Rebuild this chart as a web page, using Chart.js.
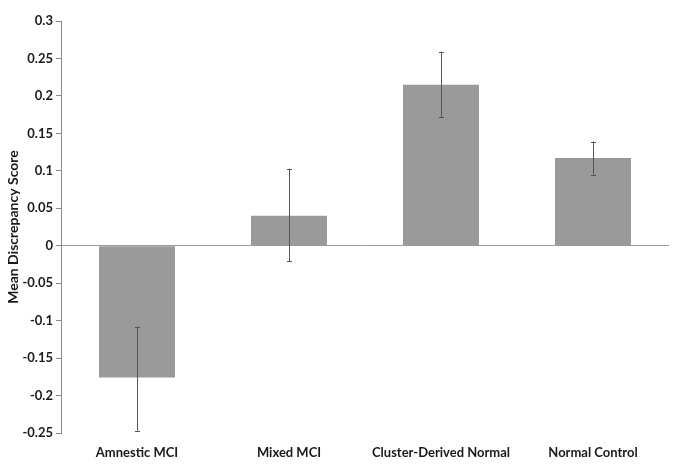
<!DOCTYPE html>
<html>
<head>
<meta charset="utf-8">
<script src="https://cdn.jsdelivr.net/npm/chart.js@4/dist/chart.umd.min.js"></script>
<style>
html,body{margin:0;padding:0;background:#fff;}
#wrap{width:680px;height:474px;position:relative;}
</style>
</head>
<body>
<div id="wrap"><canvas id="c" width="680" height="474"></canvas></div>
<script>
const categories = ['Amnestic MCI', 'Mixed MCI', 'Cluster-Derived Normal', 'Normal Control'];
const means = [-0.176, 0.040, 0.215, 0.117];
const errLow = [-0.247, -0.021, 0.172, 0.095];
const errHigh = [-0.108, 0.103, 0.259, 0.139];
const yMin = -0.25, yMax = 0.3, yStep = 0.05;
const yTitle = 'Mean Discrepancy Score';

const FONT = 'Lato, "Open Sans", sans-serif';

const errorBarPlugin = {
  id: 'errorBars',
  afterDatasetsDraw(chart) {
    const ctx = chart.ctx;
    const meta = chart.getDatasetMeta(0);
    const y = chart.scales.y;
    ctx.save();
    ctx.strokeStyle = '#555555';
    ctx.lineWidth = 1;
    meta.data.forEach((bar, i) => {
      const x = Math.round(bar.x) + 0.5;
      const yl = y.getPixelForValue(errLow[i]);
      const yh = y.getPixelForValue(errHigh[i]);
      ctx.beginPath();
      ctx.moveTo(x, yh); ctx.lineTo(x, yl);
      ctx.moveTo(x - 2.5, Math.round(yh) + 0.5); ctx.lineTo(x + 2.5, Math.round(yh) + 0.5);
      ctx.moveTo(x - 2.5, Math.round(yl) + 0.5); ctx.lineTo(x + 2.5, Math.round(yl) + 0.5);
      ctx.stroke();
    });
    ctx.restore();
  }
};

new Chart(document.getElementById('c'), {
  type: 'bar',
  data: {
    labels: categories,
    datasets: [{
      data: means,
      backgroundColor: '#9a9a9a',
      borderWidth: 0,
      barPercentage: 0.5,
      categoryPercentage: 1.0
    }]
  },
  options: {
    responsive: false,
    animation: false,
    devicePixelRatio: 1,
    layout: { padding: { top: 21, right: 11, bottom: 0, left: 5 } },
    plugins: { legend: { display: false }, tooltip: { enabled: false } },
    scales: {
      x: {
        grid: { display: false, drawTicks: false },
        border: { display: false },
        ticks: { color: '#1a1a1a', padding: 12, font: { family: FONT, size: 13, weight: 'bold' }, maxRotation: 0, autoSkip: false },
        afterFit(scale) { scale.height = 41; }
      },
      y: {
        min: yMin, max: yMax,
        ticks: {
          stepSize: yStep,
          color: '#1a1a1a',
          padding: 3,
          font: { family: FONT, size: 13, weight: 'bold' },
          callback: v => String(parseFloat(Number(v).toFixed(2)))
        },
        grid: {
          drawOnChartArea: true,
          color: c => (Math.abs(c.tick.value) < 1e-9 ? '#9a9a9a' : 'rgba(0,0,0,0)'),
          tickColor: '#888888',
          tickLength: 5,
          lineWidth: 1
        },
        border: { display: true, color: '#888888', width: 1 },
        title: { display: true, text: yTitle, color: '#1a1a1a', font: { family: FONT, size: 14, weight: 'bold' }, padding: { top: 0, bottom: 0 } },
        afterFit(scale) { scale.width = 56; }
      }
    }
  },
  plugins: [errorBarPlugin]
});
</script>
</body>
</html>
